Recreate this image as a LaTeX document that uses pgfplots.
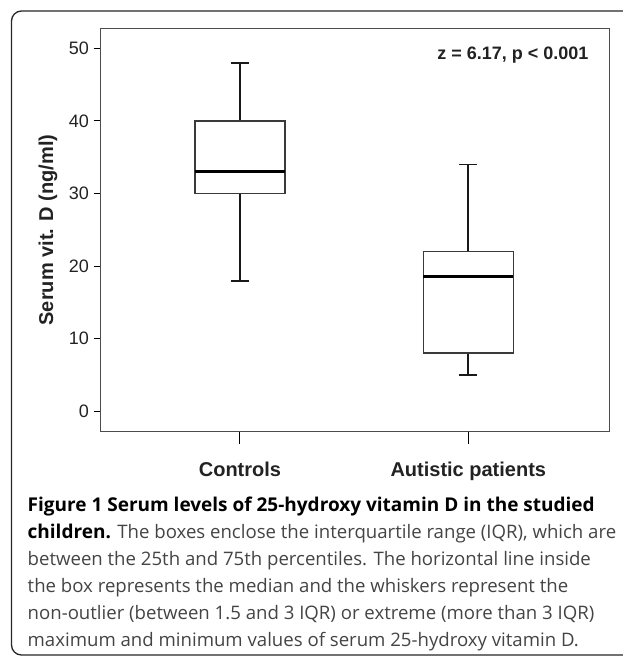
\documentclass[border=0pt]{standalone}
\usepackage{fontspec}
\setmainfont{Liberation Sans}
\newfontfamily\capfont{Open Sans}
\usepackage{pgfplots}
\pgfplotsset{compat=1.18}
\definecolor{txt}{HTML}{222222}
\definecolor{captxt}{HTML}{444444}
\definecolor{boxedge}{HTML}{3A3A3A}
\begin{document}
\begin{tikzpicture}
\useasboundingbox (0pt,0pt) rectangle (622pt,-656pt);
\draw[line width=1.3pt, color=black!85, rounded corners=10pt] (640pt,-11pt) -- (11.5pt,-11pt) -- (11.5pt,-655pt) -- (640pt,-655pt);
\begin{axis}[
  at={(100.7pt,-28.3pt)}, anchor=north west,
  scale only axis, width=508.6pt, height=403.4pt,
  xmin=0.390, xmax=2.6176, ymin=-2.81, ymax=52.75,
  xtick={1,2}, xticklabels={Controls, Autistic patients},
  ytick={0,10,20,30,40,50},
  xtick pos=bottom, ytick pos=left,
  tick align=outside,
  major tick length=7pt,
  xtick style={draw=none},
  ytick style={black, line width=1pt},
  axis line style={black!70, line width=1pt},
  clip=false,
  /pgf/number format/assume math mode=true,
  yticklabel style={font=\fontsize{18}{18}\selectfont, color=txt, anchor=east, inner sep=0pt, xshift=-4.7pt},
  xticklabel style={font=\bfseries\fontsize{20}{20}\selectfont, color=txt, anchor=base, inner sep=0pt, yshift=-37.7pt},
  ylabel={Serum vit. D (ng/ml)},
  ylabel style={font=\bfseries\fontsize{20}{20}\selectfont, color=txt, at={(axis description cs:-0.1036,0.5)}, anchor=center, inner sep=0pt},
  boxst/.style={draw=boxedge, line width=1.5pt, line join=miter, mark=none},
  whisk/.style={draw=black!90, line width=1.8pt, mark=none},
  med/.style={draw=black, line width=3pt, mark=none},
]
% Controls: lower whisker 18, Q1 30, median 33, Q3 40, upper whisker 48
\addplot[whisk] coordinates {(1,40) (1,48)};
\addplot[whisk] coordinates {(0.961,48) (1.039,48)};
\addplot[whisk] coordinates {(1,30) (1,18)};
\addplot[whisk] coordinates {(0.961,18) (1.039,18)};
\addplot[boxst] coordinates {(0.803,30) (1.197,30) (1.197,40) (0.803,40) (0.803,30)} -- cycle;
\addplot[med] coordinates {(0.803,33) (1.197,33)};
% Autistic patients: lower whisker 5, Q1 8, median 18.5, Q3 22, upper whisker 34
\addplot[whisk] coordinates {(2,22) (2,34)};
\addplot[whisk] coordinates {(1.961,34) (2.039,34)};
\addplot[whisk] coordinates {(2,8) (2,5)};
\addplot[whisk] coordinates {(1.961,5) (2.039,5)};
\addplot[boxst] coordinates {(1.803,8) (2.197,8) (2.197,22) (1.803,22) (1.803,8)} -- cycle;
\addplot[med] coordinates {(1.803,18.5) (2.197,18.5)};
\draw[black, line width=1pt] (axis cs:1,-2.81) -- ++(0pt,-12.3pt);
\draw[black, line width=1pt] (axis cs:2,-2.81) -- ++(0pt,-12.3pt);
\node[anchor=base east, inner sep=0pt, font=\bfseries\fontsize{18}{18}\selectfont, color=txt] at (axis cs:2.527,48.39) {z = 6.17, p < 0.001};
\end{axis}
\node[anchor=base west, inner sep=0pt, align=left, color=captxt, font=\capfont\fontsize{18.6}{27}\selectfont] at (27.5pt,-646pt) {%
\textcolor{black}{\bfseries\fontsize{19}{27}\selectfont Figure 1 Serum levels of 25-hydroxy vitamin D in the studied}\\
\textcolor{black}{\bfseries\fontsize{19}{27}\selectfont children.} The boxes enclose the interquartile range (IQR), which are\\
between the 25th and 75th percentiles. The horizontal line inside\\
the box represents the median and the whiskers represent the\\
non-outlier (between 1.5 and 3 IQR) or extreme (more than 3 IQR)\\
maximum and minimum values of serum 25-hydroxy vitamin D.};
\end{tikzpicture}
\end{document}
